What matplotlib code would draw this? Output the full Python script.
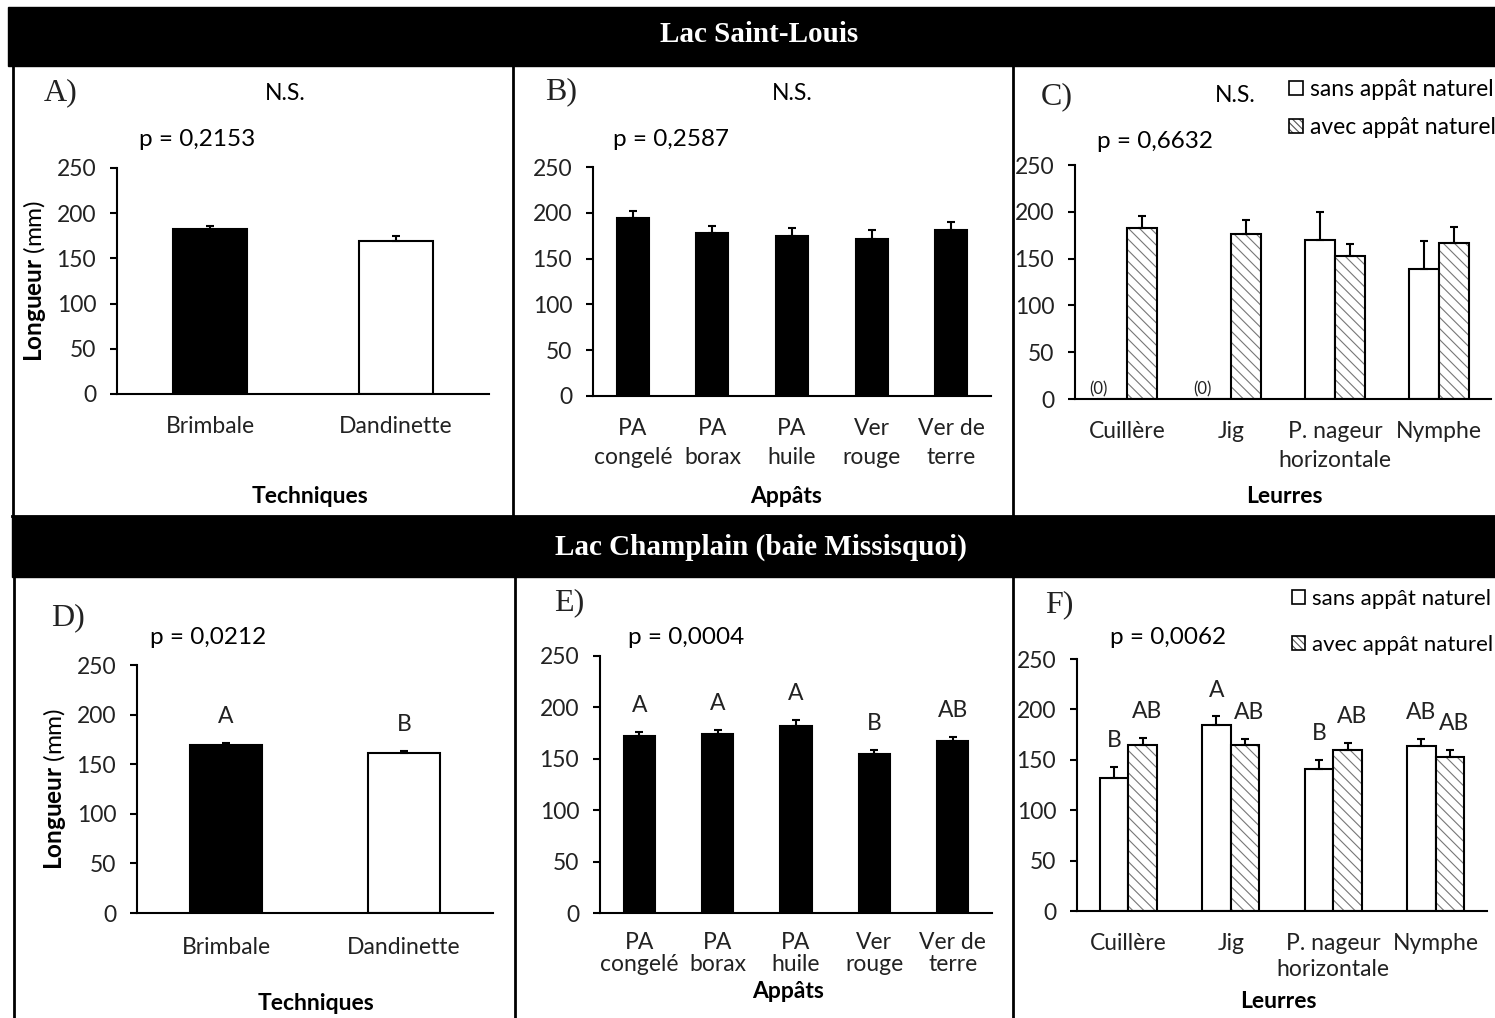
import matplotlib
matplotlib.use("Agg")
import matplotlib.pyplot as plt
from matplotlib.patches import Rectangle, Patch
from matplotlib.lines import Line2D
from matplotlib.legend_handler import HandlerTuple
import numpy as np

plt.rcParams["font.family"] = ["Lato", "DejaVu Sans"]
plt.rcParams["mathtext.fontset"] = "custom"
plt.rcParams["mathtext.rm"] = "Lato"
plt.rcParams["mathtext.bf"] = "Lato:bold"
plt.rcParams["hatch.linewidth"] = 0.8

FS = 16.5
TXT = "#222222"
HATCH = "#777777"

# categories
techniques = ["Brimbale", "Dandinette"]
appats = ["PA\ncongelé", "PA\nborax", "PA\nhuile", "Ver\nrouge", "Ver de\nterre"]
leurres = ["Cuillère", "Jig", "P. nageur\nhorizontale", "Nymphe"]

# Lac Saint-Louis (mean length, mm, and SE)
stl_tech = [182, 169]
stl_tech_err = [4, 6]
stl_appat = [194, 178, 175, 171, 181]
stl_appat_err = [8, 8, 8, 10, 9]
stl_sans = [0, 0, 170, 139]
stl_sans_err = [0, 0, 30, 30]
stl_avec = [183, 176, 153, 167]
stl_avec_err = [13, 15, 13, 17]

# Lac Champlain (baie Missisquoi)
chp_tech = [169, 161]
chp_tech_err = [2, 2]
chp_appat = [172, 174, 182, 155, 167]
chp_appat_err = [4, 4, 6, 4, 4]
chp_sans = [132, 185, 141, 164]
chp_sans_err = [11, 8, 9, 7]
chp_avec = [165, 165, 160, 153]
chp_avec_err = [7, 6, 7, 7]

# Tukey groups
chp_tech_grp = ["A", "B"]
chp_appat_grp = ["A", "A", "A", "B", "AB"]
chp_sans_grp = ["B", "A", "B", "AB"]
chp_avec_grp = ["AB", "AB", "AB", "AB"]

W, H = 1495, 1018
fig = plt.figure(figsize=(W / 100, H / 100), dpi=100)


def fx(x):
    return x / W


def fy(y):
    return 1 - y / H


def make_ax(left, right, top, bottom):
    return fig.add_axes([fx(left), fy(bottom), (right - left) / W, (bottom - top) / H])


def style(ax, labels, spacing=1.45, pad=16):
    n = len(labels)
    ax.set_xlim(-0.5, n - 0.5)
    ax.set_ylim(0, 250)
    ax.set_yticks(range(0, 251, 50))
    ax.set_xticks(range(n))
    ax.set_xticklabels(labels, linespacing=spacing)
    for s in ["top", "right"]:
        ax.spines[s].set_visible(False)
    for s in ["left", "bottom"]:
        ax.spines[s].set_linewidth(1.5)
    ax.tick_params(axis="y", length=5, width=1.5, pad=10, labelsize=FS, labelcolor=TXT)
    ax.tick_params(axis="x", length=0, pad=pad, labelsize=FS, labelcolor=TXT)


def draw_bars(ax, x, vals, errs, width, face="black", hatched=False):
    vals = np.asarray(vals, float)
    errs = np.asarray(errs, float)
    if hatched:
        ax.bar(x, vals, width, color="white", edgecolor=HATCH, hatch="\\\\\\", linewidth=0)
        ax.bar(x, vals, width, fill=False, edgecolor="black", linewidth=1.5)
    else:
        ax.bar(x, vals, width, color=face, edgecolor="black", linewidth=1.5)
    m = errs > 0
    ax.errorbar(np.asarray(x)[m], vals[m], yerr=[np.zeros(m.sum()), errs[m]], fmt="none",
                ecolor="black", elinewidth=1.5, capsize=3, capthick=1.5)


def groups(ax, x, vals, errs, grp, dx=0):
    for xi, v, e, g in zip(x, vals, errs, grp):
        ax.annotate(g, (xi, v + e), xytext=(dx, 19), textcoords="offset points",
                    ha="center", va="center", fontsize=16.5, color=TXT)


def ylabel(ax):
    ax.set_ylabel(r"$\mathbf{Longueur}$ (mm)", fontsize=17.5, labelpad=6)


def xlabel(x, y, s):
    fig.text(fx(x), fy(y), s, ha="center", va="center", fontsize=FS, fontweight="bold")


def corner(x, y, s):
    fig.text(fx(x), fy(y), s, ha="center", va="center", fontsize=23,
             family="Liberation Serif", color=TXT)


def ptext(x, y, s):
    fig.text(fx(x), fy(y), s, ha="left", va="center", fontsize=17.5)


def legend(x, y, spacing, size):
    h_sans = Patch(facecolor="white", edgecolor="black", linewidth=1.2)
    h_hatch = Patch(facecolor="white", edgecolor="#555555", hatch="\\\\\\\\\\", linewidth=0)
    h_edge = Patch(fill=False, edgecolor="black", linewidth=1.2)
    fig.legend([h_sans, (h_hatch, h_edge)], ["sans appât naturel", "avec appât naturel"],
               handler_map={tuple: HandlerTuple(ndivide=1, pad=0)},
               loc="upper left", bbox_to_anchor=(fx(x), fy(y)), frameon=False,
               fontsize=size, handlelength=0.6, handleheight=0.6, handletextpad=0.3,
               labelspacing=spacing, borderpad=0, borderaxespad=0)


# black title bands
fig.patches.append(Rectangle((fx(8), fy(66)), (W - 8) / W, 59 / H, transform=fig.transFigure,
                             color="black", zorder=0))
fig.patches.append(Rectangle((fx(12), fy(577)), (W - 12) / W, 61 / H, transform=fig.transFigure,
                             color="black", zorder=0))
fig.text(fx(759), fy(35), "Lac Saint-Louis", ha="center", va="center", color="white",
         fontsize=21, fontweight="bold", family="Liberation Serif")
fig.text(fx(761), fy(547), "Lac Champlain (baie Missisquoi)", ha="center", va="center",
         color="white", fontsize=21, fontweight="bold", family="Liberation Serif")

# panel frames
frame = dict(color="black", linewidth=2, transform=fig.transFigure)
for xv in [12.5, 512.5, 1012.5]:
    fig.add_artist(Line2D([fx(xv), fx(xv)], [fy(66), fy(516)], **frame))
fig.add_artist(Line2D([fx(12), fx(W)], [fy(515.5), fy(515.5)], **frame))
for xv in [14, 515, 1012.5]:
    fig.add_artist(Line2D([fx(xv), fx(xv)], [fy(577), fy(H)], **frame))

# A) Lac Saint-Louis, techniques
ax = make_ax(117, 489, 168, 394)
draw_bars(ax, [0], stl_tech[:1], stl_tech_err[:1], 0.4, face="black")
draw_bars(ax, [1], stl_tech[1:], stl_tech_err[1:], 0.4, face="white")
style(ax, techniques)
ylabel(ax)
corner(61, 93, "A)")
fig.text(fx(285), fy(93), "N.S.", ha="center", va="center", fontsize=FS)
ptext(139, 140, "p = 0,2153")
xlabel(310, 497, "Techniques")

# B) Lac Saint-Louis, appâts
ax = make_ax(593, 991, 167, 396)
draw_bars(ax, range(5), stl_appat, stl_appat_err, 0.4)
style(ax, appats)
corner(561, 92, "B)")
fig.text(fx(792), fy(93), "N.S.", ha="center", va="center", fontsize=FS)
ptext(613, 140, "p = 0,2587")
xlabel(786, 497, "Appâts")

# C) Lac Saint-Louis, leurres
ax = make_ax(1075, 1491, 165, 399)
x = np.arange(4)
bw = 0.284
draw_bars(ax, x - bw / 2, stl_sans, stl_sans_err, bw, face="white")
draw_bars(ax, x + bw / 2, stl_avec, stl_avec_err, bw, hatched=True)
for xi, v in zip(x, stl_sans):
    if v == 0:
        ax.text(xi - bw / 2 - 0.13, 10, "(0)", ha="center", va="center", fontsize=12, color=TXT)
style(ax, leurres)
corner(1057, 97, "C)")
fig.text(fx(1235), fy(95), "N.S.", ha="center", va="center", fontsize=FS)
ptext(1097, 141, "p = 0,6632")
xlabel(1284, 497, "Leurres")
legend(1289, 79, 0.75, FS)

# D) Lac Champlain, techniques
ax = make_ax(137, 493, 665, 913)
draw_bars(ax, [0], chp_tech[:1], chp_tech_err[:1], 0.4, face="black")
draw_bars(ax, [1], chp_tech[1:], chp_tech_err[1:], 0.4, face="white")
groups(ax, [0, 1], chp_tech, chp_tech_err, chp_tech_grp)
style(ax, techniques, pad=17)
ylabel(ax)
corner(68, 618, "D)")
ptext(150, 637, "p = 0,0212")
xlabel(316, 1003, "Techniques")

# E) Lac Champlain, appâts
ax = make_ax(600, 992, 656, 913)
draw_bars(ax, range(5), chp_appat, chp_appat_err, 0.4)
groups(ax, range(5), chp_appat, chp_appat_err, chp_appat_grp)
style(ax, appats, spacing=1.05, pad=14)
corner(569, 603, "E)")
ptext(628, 637, "p = 0,0004")
xlabel(788, 991, "Appâts")

# F) Lac Champlain, leurres
ax = make_ax(1077, 1487, 659, 911)
bw = 0.28
draw_bars(ax, x - bw / 2, chp_sans, chp_sans_err, bw, face="white")
draw_bars(ax, x + bw / 2, chp_avec, chp_avec_err, bw, hatched=True)
groups(ax, x - bw / 2, chp_sans, chp_sans_err, chp_sans_grp)
groups(ax, x + bw / 2, chp_avec, chp_avec_err, chp_avec_grp, dx=3)
style(ax, leurres, spacing=1.3, pad=16)
corner(1059, 605, "F)")
ptext(1110, 638, "p = 0,0062")
xlabel(1278, 1001, "Leurres")
legend(1292, 589, 1.15, 16)

fig.savefig("out.png", dpi=100)
